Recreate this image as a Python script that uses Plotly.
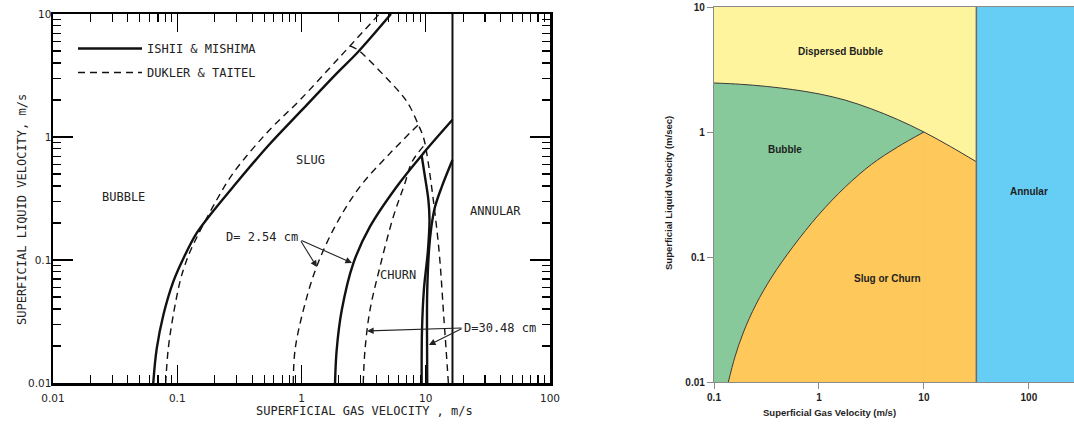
import numpy as np
import plotly.graph_objects as go

# ---------------- LEFT PANEL DATA (Ishii & Mishima vs Dukler & Taitel) ----------------
# solid: Ishii & Mishima bubble -> slug
ishii_bs_x = [0.0641, 0.0684, 0.0773, 0.0929, 0.112, 0.1436, 0.1837, 0.281, 0.537, 1.01, 1.93, 2.80, 5.25]
ishii_bs_y = [0.01, 0.0191, 0.0357, 0.0667, 0.103, 0.166, 0.232, 0.392, 0.845, 1.66, 3.31, 4.82, 10.0]
# dashed: Dukler & Taitel bubble -> slug
dukler_bs_x = [0.0807, 0.0847, 0.0929, 0.1052, 0.1153, 0.1306, 0.2075, 0.2825, 0.5248, 0.9727, 1.932, 2.455, 4.227]
dukler_bs_y = [0.01, 0.0191, 0.0357, 0.0667, 0.0910, 0.1253, 0.3076, 0.5093, 1.079, 2.0, 4.23, 5.50, 10.0]
# dashed: Taitel dispersed bubble / annular boundary
taitel_db_x = [2.455, 2.851, 4.853, 6.592, 7.464, 8.710, 9.550, 10.19, 12.62, 14.03, 15.21]
taitel_db_y = [5.50, 5.093, 2.999, 2.128, 1.762, 1.259, 1.005, 0.736, 0.137, 0.0325, 0.01]
# dashed: Dukler slug -> churn, D = 2.54 cm
dukler_sc_254_x = [0.859, 0.887, 1.035, 1.324, 1.919, 2.958, 5.152, 8.710]
dukler_sc_254_y = [0.01, 0.01854, 0.03917, 0.0883, 0.1986, 0.3945, 0.7362, 1.259]
# solid: Ishii slug -> churn, D = 2.54 cm
ishii_sc_254_x = [1.862, 1.919, 2.109, 2.612, 3.556, 5.834, 9.550, 16.41]
ishii_sc_254_y = [0.01, 0.01854, 0.03917, 0.0940, 0.1866, 0.3945, 0.7362, 1.380]
# dashed: Dukler slug -> churn, D = 30.48 cm
dukler_sc_3048_x = [3.141, 3.243, 3.556, 4.285, 5.483, 6.808, 7.745, 9.863]
dukler_sc_3048_y = [0.01, 0.01854, 0.03917, 0.0883, 0.2249, 0.4227, 0.6266, 0.871]
# solid: Ishii curves, D = 30.48 cm
ishii_a_3048_x = [9.268, 9.863, 10.50, 10.72, 10.42, 9.66, 9.33, 9.268]
ishii_a_3048_y = [0.7079, 0.4732, 0.3076, 0.2113, 0.1205, 0.0570, 0.0270, 0.01]
ishii_b_3048_x = [16.41, 13.43, 11.86, 11.09, 10.62, 10.28, 10.23, 10.28]
ishii_b_3048_y = [0.650, 0.3917, 0.2698, 0.1854, 0.1205, 0.0570, 0.0270, 0.01]
# solid: Ishii churn -> annular (vertical)
ishii_annular_x = 16.41

left_xticks = [0.01, 0.1, 1, 10, 100]
left_xticktext = ["0.01", "0.1", "1", "10", "100"]
left_yticks = [0.01, 0.1, 1, 10]
left_yticktext = ["0.01", "0.1", "1", "10"]

# ---------------- RIGHT PANEL DATA (regime map) ----------------
bubble_slug_x = [0.137, 0.158, 0.191, 0.251, 0.355, 0.562, 1.0, 1.78, 3.16, 5.62, 10.0]
bubble_slug_y = [0.01, 0.0158, 0.0251, 0.0417, 0.0692, 0.120, 0.219, 0.363, 0.550, 0.759, 1.0]
dispersed_x = [0.1, 0.178, 0.316, 0.562, 1.0, 1.78, 3.16, 5.62, 10.0, 17.8, 31.6]
dispersed_y = [2.466, 2.410, 2.315, 2.185, 2.018, 1.799, 1.531, 1.259, 1.0, 0.767, 0.578]
annular_x = 31.6

right_xticks = [0.1, 1, 10, 100]
right_xticktext = ["0.1", "1", "10", "100"]
right_yticks = [0.01, 0.1, 1, 10]
right_yticktext = ["0.01", "0.1", "1", "10"]

# axis limits
L_XR = [0.01, 100]
L_YR = [0.01, 10]
R_XR = [0.1, 10 ** 2.43]
R_YR = [0.01, 10]

C_YELLOW = "#fff49e"
C_GREEN = "#87c99b"
C_ORANGE = "#fec85a"
C_BLUE = "#66cdf4"

W, H = 1074, 430

fig = go.Figure()

# ---- right panel fills ----
def rtrace(**kw):
    base = dict(xaxis="x2", yaxis="y2", mode="lines", showlegend=False, hoverinfo="skip")
    base.update(kw)
    fig.add_trace(go.Scatter(**base))

xmin, ymin, ymax = R_XR[0], R_YR[0], R_YR[1]
rtrace(x=[xmin, annular_x, annular_x, xmin, xmin], y=[ymin, ymin, ymax, ymax, ymin],
       fill="toself", fillcolor=C_YELLOW, line=dict(width=0))
rtrace(x=[annular_x, R_XR[1] * 2, R_XR[1] * 2, annular_x, annular_x], y=[ymin, ymin, ymax, ymax, ymin],
       fill="toself", fillcolor=C_BLUE, line=dict(width=0))
# green: under dispersed-bubble curve
rtrace(x=[xmin, annular_x], y=[ymin, ymin], line=dict(width=0))
rtrace(x=dispersed_x, y=dispersed_y, fill="tonexty", fillcolor=C_GREEN, line=dict(width=0, shape="spline"))
# orange: right of bubble/slug curve
rtrace(x=[bubble_slug_x[0], bubble_slug_x[-1]], y=[ymin, ymin], line=dict(width=0))
rtrace(x=bubble_slug_x, y=bubble_slug_y, fill="tonexty", fillcolor=C_ORANGE, line=dict(width=0, shape="spline"))
dx2 = [v for v in dispersed_x if v >= bubble_slug_x[-1]]
dy2 = [dispersed_y[i] for i, v in enumerate(dispersed_x) if v >= bubble_slug_x[-1]]
rtrace(x=[dx2[0], dx2[-1]], y=[ymin, ymin], line=dict(width=0))
rtrace(x=dx2, y=dy2, fill="tonexty", fillcolor=C_ORANGE, line=dict(width=0, shape="spline"))
# boundaries
rtrace(x=dispersed_x, y=dispersed_y, line=dict(color="#3a3a3a", width=1, shape="spline"))
rtrace(x=bubble_slug_x, y=bubble_slug_y, line=dict(color="#3a3a3a", width=1, shape="spline"))
rtrace(x=[annular_x, annular_x], y=[ymin, ymax], line=dict(color="#6b6b6b", width=1.5))

# ---- left panel lines ----
SOLID = dict(color="#111111", width=2.4, shape="spline")
DASH = dict(color="#111111", width=1.4, dash="7px,5px", shape="spline")

def ltrace(x, y, line, name=None, group=None, show=False):
    fig.add_trace(go.Scatter(x=x, y=y, mode="lines", line=line, name=name, legendgroup=group,
                             showlegend=show, hoverinfo="skip", xaxis="x", yaxis="y"))

ltrace(ishii_bs_x, ishii_bs_y, SOLID, "ISHII &amp; MISHIMA", "ishii", True)
ltrace(dukler_bs_x, dukler_bs_y, DASH, "DUKLER &amp; TAITEL", "dukler", True)
ltrace(taitel_db_x, taitel_db_y, DASH, group="dukler")
ltrace(dukler_sc_254_x, dukler_sc_254_y, DASH, group="dukler")
ltrace(ishii_sc_254_x, ishii_sc_254_y, SOLID, group="ishii")
ltrace(dukler_sc_3048_x, dukler_sc_3048_y, DASH, group="dukler")
ltrace(ishii_a_3048_x, ishii_a_3048_y, SOLID, group="ishii")
ltrace(ishii_b_3048_x, ishii_b_3048_y, SOLID, group="ishii")
ltrace([ishii_annular_x, ishii_annular_x], L_YR, dict(color="#111111", width=2.0), group="ishii")

# ---------------- annotations ----------------
LFONT = dict(family="DejaVu Sans Mono", size=12, color="#222222")
RFONT = dict(family="Liberation Sans, Arial", size=10, color="#1e1e1e", weight="bold")

left_labels = [  # text, x value, y value
    ("BUBBLE", 0.0366, 0.325),
    ("SLUG", 1.19, 0.650),
    ("ANNULAR", 36.1, 0.250),
    ("CHURN", 5.98, 0.0755),
    ("D= 2.54 cm", 0.481, 0.154),
    ("D=30.48 cm", 39.6, 0.0280),
]
right_labels = [
    ("Dispersed Bubble", 1.62, 4.37),
    ("Bubble", 0.474, 0.718),
    ("Slug or Churn", 4.45, 0.0667),
    ("Annular", 100.0, 0.337),
]
# arrows: (tail x, tail y, head x, head y)
left_arrows = [
    (0.973, 0.146, 1.33, 0.0877),
    (0.973, 0.146, 2.55, 0.0946),
    (19.95, 0.0280, 3.37, 0.0265),
    (19.95, 0.0280, 10.6, 0.0204),
]

def px(x):
    return x / W

def py(y):
    return 1 - y / H

ann = []
for t, x, y in left_labels:
    ann.append(dict(text=t, x=np.log10(x), y=np.log10(y), xref="x", yref="y", showarrow=False, font=LFONT))
for t, x, y in right_labels:
    ann.append(dict(text=t, x=np.log10(x), y=np.log10(y), xref="x2", yref="y2", showarrow=False, font=RFONT))
for tx, ty, hx, hy in left_arrows:
    ann.append(dict(text="", x=np.log10(hx), y=np.log10(hy), ax=np.log10(tx), ay=np.log10(ty),
                    xref="x", yref="y", axref="x", ayref="y", showarrow=True,
                    arrowhead=2, arrowsize=1.2, arrowwidth=1.1, arrowcolor="#222222"))
# axis titles
ann += [
    dict(text="SUPERFICIAL GAS VELOCITY , m/s", x=px(364), y=py(420), xref="paper", yref="paper",
         showarrow=False, font=LFONT),
    dict(text="SUPERFICIAL LIQUID VELOCITY, m/s", x=px(13), y=py(210), xref="paper", yref="paper",
         showarrow=False, textangle=-90, font=LFONT),
    dict(text="Superficial Gas Velocity (m/s)", x=px(898), y=py(420), xref="paper", yref="paper",
         showarrow=False, font=dict(RFONT, size=9.5)),
    dict(text="Superficial Liquid Velocity (m/sec)", x=px(668), y=py(193), xref="paper", yref="paper",
         showarrow=False, textangle=-90, font=dict(RFONT, size=9.5)),
]

minor_vals = [d * 10.0 ** e for e in range(-2, 2) for d in range(2, 10)]
LTICKFONT = dict(family="DejaVu Sans", size=10.5, color="#222222")

fig.update_layout(
    width=W, height=H,
    margin=dict(l=0, r=0, t=0, b=0),
    paper_bgcolor="white", plot_bgcolor="white",
    annotations=ann,
    showlegend=True,
    hovermode=False,
    legend=dict(x=px(73), y=py(34), xanchor="left", yanchor="top",
                font=LFONT, bgcolor="rgba(0,0,0,0)", itemwidth=64,
                traceorder="grouped", tracegroupgap=5),
    xaxis=dict(type="log", range=[np.log10(L_XR[0]), np.log10(L_XR[1])], domain=[px(53), px(550)],
               anchor="y", showline=True, linecolor="black", linewidth=2.5, mirror="ticks",
               ticks="inside", ticklen=18, tickwidth=1.4, tickcolor="black",
               tickmode="array", tickvals=left_xticks, ticktext=left_xticktext, tickfont=LTICKFONT,
               ticklabelstandoff=4,
               showgrid=False, zeroline=False, automargin=False,
               minor=dict(tickmode="array", tickvals=minor_vals, ticks="inside", ticklen=8,
                          tickwidth=1.1, tickcolor="black", showgrid=False)),
    yaxis=dict(type="log", range=[np.log10(L_YR[0]), np.log10(L_YR[1])], domain=[py(383), py(14)],
               anchor="x", showline=True, linecolor="black", linewidth=2.5, mirror="ticks",
               ticks="inside", ticklen=20, tickwidth=1.4, tickcolor="black",
               tickmode="array", tickvals=left_yticks, ticktext=left_yticktext, tickfont=LTICKFONT,
               ticklabelstandoff=-3,
               showgrid=False, zeroline=False, automargin=False,
               minor=dict(tickmode="array", tickvals=minor_vals, ticks="inside", ticklen=8,
                          tickwidth=1.1, tickcolor="black", showgrid=False)),
    xaxis2=dict(type="log", range=[np.log10(R_XR[0]), np.log10(R_XR[1])], domain=[px(714), 1.0],
                anchor="y2", showline=True, linecolor="#8a8a8a", linewidth=1.2, mirror=True,
                ticks="outside", ticklen=6, tickwidth=1, tickcolor="#8a8a8a",
                tickmode="array", tickvals=right_xticks, ticktext=right_xticktext, tickfont=RFONT,
                showgrid=False, zeroline=False, automargin=False),
    yaxis2=dict(type="log", range=[np.log10(R_YR[0]), np.log10(R_YR[1])], domain=[py(382), py(7)],
                anchor="x2", showline=True, linecolor="#8a8a8a", linewidth=1.2,
                ticks="outside", ticklen=6, tickwidth=1, tickcolor="#8a8a8a",
                tickmode="array", tickvals=right_yticks, ticktext=right_yticktext, tickfont=RFONT,
                showgrid=False, zeroline=False, automargin=False),
)

# remove the browser's default 8px body margin so the figure sits at the page origin
fig.write_html("out.html", config={"displayModeBar": False, "staticPlot": True},
               post_script="document.body.style.margin='0px';")
